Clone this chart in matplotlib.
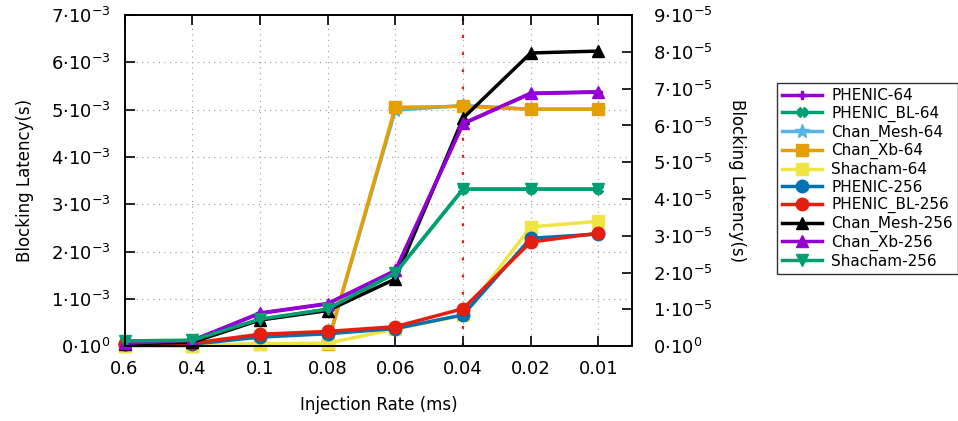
import numpy as np
import matplotlib
matplotlib.use('Agg')
import matplotlib.pyplot as plt

# Data
rates = ['0.6', '0.4', '0.1', '0.08', '0.06', '0.04', '0.02', '0.01']
names = ['PHENIC-64', 'PHENIC_BL-64', 'Chan_Mesh-64', 'Chan_Xb-64', 'Shacham-64',
         'PHENIC-256', 'PHENIC_BL-256', 'Chan_Mesh-256', 'Chan_Xb-256', 'Shacham-256']

phenic_64     = [0.06e-3, 0.11e-3, 0.69e-3, 0.89e-3, 1.59e-3, 4.70e-3, 5.34e-3, 5.37e-3]
phenic_bl_64  = [0.11e-3, 0.12e-3, 0.56e-3, 0.78e-3, 1.54e-3, 3.32e-3, 3.32e-3, 3.32e-3]
chan_mesh_64  = [0.01e-3, 0.01e-3, 0.04e-3, 0.05e-3, 4.99e-3, 5.09e-3, 5.01e-3, 5.01e-3]
chan_xb_64    = [0.01e-3, 0.01e-3, 0.04e-3, 0.05e-3, 5.05e-3, 5.07e-3, 5.01e-3, 5.01e-3]
shacham_64    = [0.01e-3, 0.01e-3, 0.05e-3, 0.06e-3, 0.36e-3, 0.65e-3, 2.52e-3, 2.64e-3]
phenic_256    = [0.04e-3, 0.04e-3, 0.19e-3, 0.26e-3, 0.37e-3, 0.66e-3, 2.28e-3, 2.37e-3]
phenic_bl_256 = [0.05e-3, 0.06e-3, 0.25e-3, 0.31e-3, 0.41e-3, 0.79e-3, 2.20e-3, 2.39e-3]
chan_mesh_256 = [0.05e-3, 0.08e-3, 0.55e-3, 0.75e-3, 1.42e-3, 4.82e-3, 6.20e-3, 6.24e-3]
chan_xb_256   = [0.06e-3, 0.12e-3, 0.70e-3, 0.90e-3, 1.60e-3, 4.71e-3, 5.35e-3, 5.38e-3]
shacham_256   = [0.11e-3, 0.12e-3, 0.57e-3, 0.78e-3, 1.55e-3, 3.32e-3, 3.32e-3, 3.32e-3]

series = [phenic_64, phenic_bl_64, chan_mesh_64, chan_xb_64, shacham_64,
          phenic_256, phenic_bl_256, chan_mesh_256, chan_xb_256, shacham_256]
colors = ['#9400d3', '#009e73', '#56b4e9', '#e69f00', '#f0e442',
          '#0072b2', '#e51e10', '#000000', '#9400d3', '#009e73']
markers = ['P', 'X', '*', 's', 's', 'o', 'o', '^', '^', 'v']
msizes = [6, 7, 10, 9, 9, 9, 9, 9, 9, 9]

left_ticks = np.arange(0, 8) * 1e-3
right_ticks = np.arange(0, 10) * 1e-5


def sci_label(v, exp):
    if v == 0:
        return r'$\mathregular{0{\cdot}10^{0}}$'
    return r'$\mathregular{%d{\cdot}10^{%d}}$' % (round(v / 10**exp), exp)


fig = plt.figure(figsize=(9.58, 4.21), dpi=100)
ax = fig.add_axes([0.130, 0.178, 0.530, 0.786])
x = np.arange(len(rates))

# grid
for xi in x[1:]:
    ax.axvline(xi, color='#999999', ls=(0, (1, 4)), lw=0.8, zorder=0)
for yv in left_ticks[1:]:
    ax.axhline(yv, color='#999999', ls=(0, (1, 4)), lw=0.8, zorder=0)
ax.axvline(5, color='#e51e10', ls=(0, (1.3, 6.4)), lw=1.6, zorder=1)

for name, vals, c, m, ms in zip(names, series, colors, markers, msizes):
    ax.plot(x, vals, color=c, marker=m, ms=ms, lw=2.5, label=name,
            markeredgecolor=c, clip_on=False)

ax.set_xlim(0, 7.5)
ax.set_ylim(0, 7e-3)
ax.set_xticks(x)
ax.set_xticklabels(rates, fontsize=13)
ax.set_yticks(left_ticks)
ax.set_yticklabels([sci_label(v, -3) for v in left_ticks], fontsize=13)
ax.tick_params(direction='in', length=7, width=1.2, top=True, right=True, pad=10)
ax.set_xlabel('Injection Rate (ms)', fontsize=12, labelpad=13)
ax.set_ylabel('Blocking Latency(s)', fontsize=12, labelpad=12)
for sp in ax.spines.values():
    sp.set_linewidth(1.2)

ax2 = ax.twinx()
ax2.set_ylim(0, 9e-5)
ax2.set_yticks(right_ticks)
ax2.set_yticklabels([sci_label(v, -5) for v in right_ticks], fontsize=13)
ax2.tick_params(direction='in', length=7, width=1.2, pad=15)
ax2.set_ylabel('Blocking Latency(s)', fontsize=12, rotation=270, labelpad=24)
for sp in ax2.spines.values():
    sp.set_linewidth(1.2)

leg = ax.legend(loc='upper left', bbox_to_anchor=(1.285, 0.796), fontsize=11,
                frameon=True, fancybox=False, edgecolor='black', handlelength=2.6,
                borderpad=0.35, labelspacing=0.17, handletextpad=0.6, borderaxespad=0)
leg.get_frame().set_linewidth(1.0)

fig.savefig('out.png', dpi=100)
